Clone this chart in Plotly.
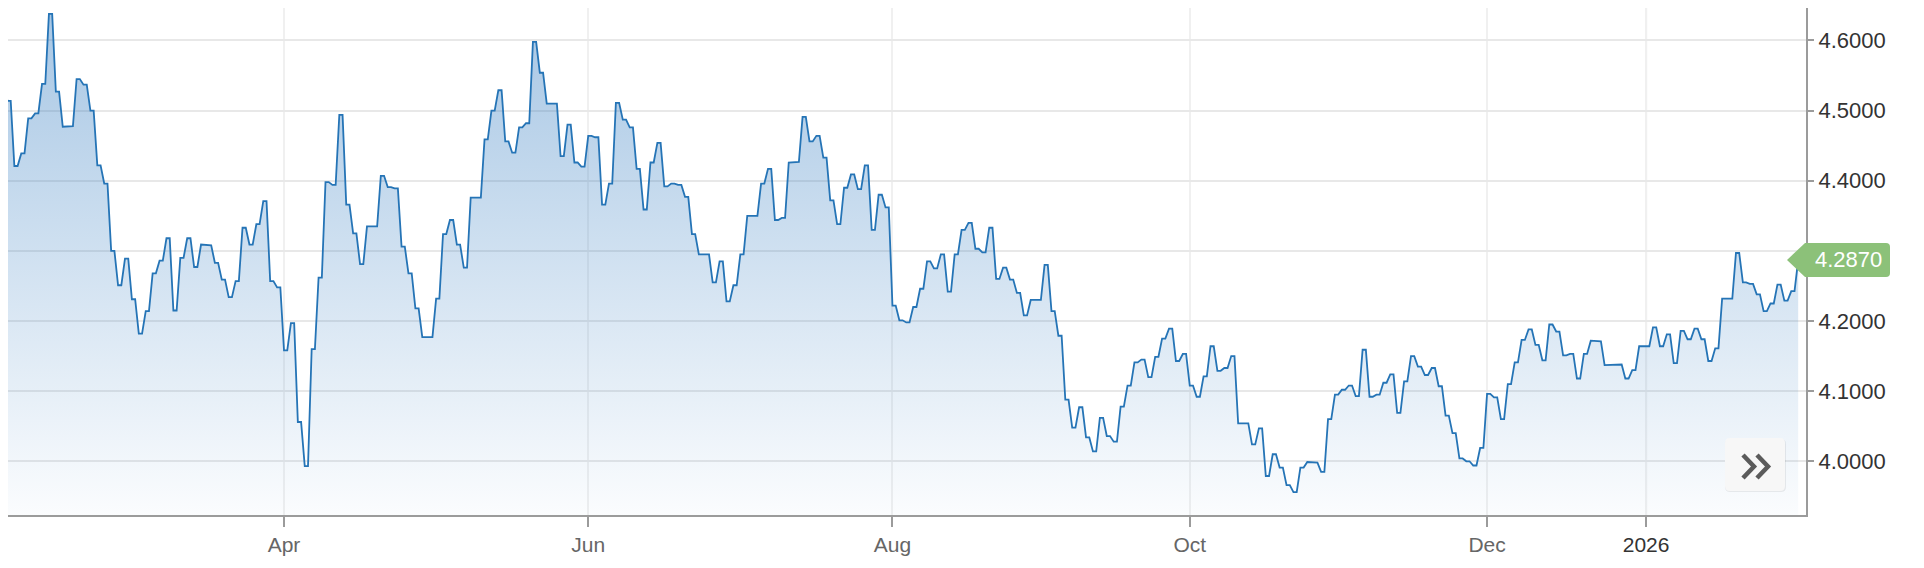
import numpy as np
import pandas as pd
import plotly.graph_objects as go

# ---- data: one value per weekday, starting 2025-02-03 (holidays repeat prior value as drawn) ----
start_day = "2025-02-03"
feb25 = [4.543, 4.514, 4.421, 4.439, 4.489, 4.496, 4.538, 4.638, 4.527, 4.477,
         4.478, 4.545, 4.537, 4.500, 4.422, 4.396, 4.300, 4.251, 4.289, 4.231]
mar25 = [4.182, 4.214, 4.268, 4.286, 4.318, 4.215, 4.290, 4.318, 4.277, 4.309,
         4.308, 4.283, 4.259, 4.234, 4.257, 4.333, 4.309, 4.338, 4.371, 4.257, 4.248]
apr25 = [4.158, 4.197, 4.056, 3.993, 4.160, 4.262, 4.398, 4.394, 4.494, 4.366,
         4.325, 4.281, 4.335, 4.335, 4.407, 4.391, 4.389, 4.306, 4.268, 4.218, 4.177, 4.177]
may25 = [4.232, 4.324, 4.344, 4.309, 4.276, 4.376, 4.376, 4.459, 4.500, 4.529,
         4.456, 4.440, 4.476, 4.482, 4.598, 4.554, 4.510, 4.510, 4.435, 4.480, 4.426, 4.420]
jun25 = [4.464, 4.462, 4.366, 4.396, 4.511, 4.487, 4.476, 4.417, 4.359, 4.426,
         4.454, 4.392, 4.396, 4.394, 4.377, 4.324, 4.295, 4.295, 4.255, 4.285, 4.228]
jul25 = [4.251, 4.295, 4.350, 4.350, 4.396, 4.417, 4.344, 4.347, 4.426, 4.427,
         4.491, 4.456, 4.464, 4.433, 4.372, 4.338, 4.390, 4.409, 4.388, 4.422, 4.330, 4.380, 4.362]
aug25 = [4.222, 4.201, 4.198, 4.220, 4.246, 4.285, 4.275, 4.295, 4.242, 4.295,
         4.330, 4.340, 4.303, 4.298, 4.333, 4.260, 4.276, 4.259, 4.240, 4.208, 4.230]
sep25 = [4.230, 4.280, 4.214, 4.179, 4.088, 4.048, 4.077, 4.034, 4.014, 4.062,
         4.036, 4.028, 4.078, 4.108, 4.141, 4.145, 4.120, 4.149, 4.175, 4.189, 4.143, 4.153]
oct25 = [4.108, 4.092, 4.121, 4.164, 4.129, 4.133, 4.150, 4.054, 4.054, 4.024,
         4.047, 3.979, 4.010, 3.991, 3.966, 3.956, 3.991, 3.999, 3.998, 3.985, 4.060, 4.095, 4.102]
nov25 = [4.108, 4.093, 4.159, 4.092, 4.095, 4.112, 4.124, 4.069, 4.114, 4.150,
         4.135, 4.123, 4.133, 4.107, 4.065, 4.040, 4.004, 4.000, 3.994, 4.019]
dec25 = [4.096, 4.091, 4.060, 4.110, 4.141, 4.173, 4.188, 4.166, 4.144, 4.195,
         4.185, 4.151, 4.153, 4.118, 4.153, 4.172, 4.171, 4.137, 4.137, 4.138, 4.118, 4.130, 4.164]
jan26 = [4.164, 4.191, 4.164, 4.181, 4.140, 4.186, 4.174, 4.189, 4.174, 4.143,
         4.161, 4.232, 4.232, 4.297, 4.255, 4.253, 4.238, 4.214, 4.225, 4.252, 4.229, 4.2425]
feb26 = [4.287]

tick_months = ["2025-04-01", "2025-06-01", "2025-08-01", "2025-10-01", "2025-12-01", "2026-01-01"]
tick_labels = ["Apr", "Jun", "Aug", "Oct", "Dec", "2026"]
y_ticks = [4.0, 4.1, 4.2, 4.3, 4.4, 4.5, 4.6]
hidden_y_labels = [4.3]   # label hidden behind the last-price tag in the reference

values = feb25 + mar25 + apr25 + may25 + jun25 + jul25 + aug25 + sep25 + oct25 + nov25 + dec25 + jan26 + feb26
dates = pd.bdate_range(start_day, periods=len(values))
idx = np.arange(len(values), dtype=float)

# each day: flat segment then a transition to next day
FLAT = 0.47
xs = np.repeat(idx, 2)
xs[1::2] += FLAT
ys = np.repeat(np.array(values), 2)
xs, ys = xs[:-1], ys[:-1]

tickvals = [int(np.searchsorted(dates.values, np.datetime64(m))) for m in tick_months]
ticktext = [f'<span style="color:#333">{t}</span>' if t.isdigit() else t for t in tick_labels]

GRAD_LO, GRAD_HI = 3.9234, 4.6578
Y_LO, Y_HI = 3.9234, 4.6463
X_LO, X_HI = 1.08, 261.13
BLUE = "#2574b6"

fig = go.Figure()
fig.add_trace(go.Scatter(
    x=xs, y=ys, mode="lines",
    line=dict(color=BLUE, width=1.8),
    fill="tozeroy",
    fillgradient=dict(type="vertical", start=GRAD_LO, stop=GRAD_HI,
                      colorscale=[[0, "rgba(42,118,190,0.02)"], [1, "rgba(42,118,190,0.42)"]]),
    hoverinfo="skip", showlegend=False,
))

last_val = values[-1]
shapes = [
    # darker year gridline
    dict(type="line", xref="x", yref="paper", x0=tickvals[-1], x1=tickvals[-1], y0=0, y1=1,
         line=dict(color="#d2d2d2", width=2), layer="below"),
    # price tag
    dict(type="path", xref="paper", yref="y", xsizemode="pixel", ysizemode="pixel",
         xanchor=1, yanchor=last_val,
         path="M -19,0 L -1,17 L 80,17 Q 84,17 84,13 L 84,-13 Q 84,-17 80,-17 L -1,-17 Z",
         fillcolor="#8cc179", line=dict(width=0), layer="above"),
    # button shadow
    dict(type="path", xref="paper", yref="paper", xsizemode="pixel", ysizemode="pixel",
         xanchor=1, yanchor=0,
         path="M -76,76 L -25,76 Q -20,76 -20,71 L -20,28 Q -20,23 -25,23 L -76,23 Q -81,23 -81,28 L -81,71 Q -81,76 -76,76 Z",
         fillcolor="rgba(0,0,0,0.07)", line=dict(width=0), layer="above"),
    # button
    dict(type="path", xref="paper", yref="paper", xsizemode="pixel", ysizemode="pixel",
         xanchor=1, yanchor=0,
         path="M -76,77 L -26,77 Q -21,77 -21,72 L -21,29 Q -21,24 -26,24 L -76,24 Q -81,24 -81,29 L -81,72 Q -81,77 -76,77 Z",
         fillcolor="#f7f7f7", line=dict(width=0), layer="above"),
    dict(type="path", xref="paper", yref="paper", xsizemode="pixel", ysizemode="pixel",
         xanchor=1, yanchor=0, path="M -63,60 L -52,48.5 L -63,37",
         line=dict(color="#5b5b5b", width=4.5), layer="above"),
    dict(type="path", xref="paper", yref="paper", xsizemode="pixel", ysizemode="pixel",
         xanchor=1, yanchor=0, path="M -49,60 L -38,48.5 L -49,37",
         line=dict(color="#5b5b5b", width=4.5), layer="above"),
]

# page has an 8px body margin: size the figure to fit the window
fig.update_layout(
    width=1916, height=560,
    margin=dict(l=0, r=118, t=0, b=53),
    paper_bgcolor="white", plot_bgcolor="white",
    font=dict(family="Liberation Sans, Arial, Helvetica, sans-serif", size=22, color="#333"),
    hovermode=False,
    shapes=shapes,
    annotations=[dict(x=1, xref="paper", y=last_val, yref="y", xanchor="center", yanchor="middle",
                      xshift=42, text=f"{last_val:.4f}", showarrow=False,
                      font=dict(color="white", size=22))],
    xaxis=dict(range=[X_LO, X_HI], tickvals=tickvals, ticktext=ticktext,
               showgrid=True, gridcolor="#f0f0f0", gridwidth=1.5,
               showline=True, linecolor="#9b9b9b", linewidth=2,
               ticks="outside", ticklen=10, tickwidth=2, tickcolor="#9b9b9b",
               tickfont=dict(color="#666", size=21), zeroline=False, fixedrange=True),
    yaxis=dict(side="right", range=[Y_LO, Y_HI], tickvals=y_ticks,
               ticktext=["" if v in hidden_y_labels else f"{v:.4f}" for v in y_ticks],
               showgrid=True, gridcolor="#e8e8e8", gridwidth=1.5,
               showline=True, linecolor="#9b9b9b", linewidth=2,
               ticks="outside", ticklen=6, tickwidth=1.5, tickcolor="#9b9b9b",
               tickfont=dict(color="#333", size=22), zeroline=False, fixedrange=True),
)

fig.write_html("out.html", config={"displayModeBar": False})
